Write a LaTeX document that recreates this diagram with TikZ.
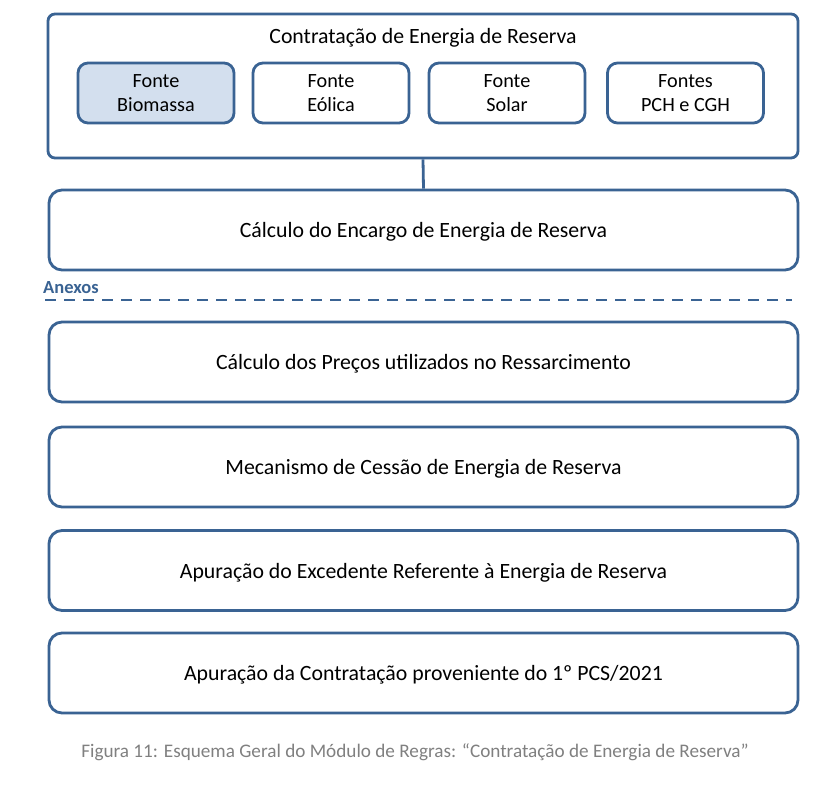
\documentclass[tikz,border=0pt]{standalone}
\usepackage{fontspec}
\setmainfont{Carlito}
\begin{document}
\begin{tikzpicture}[x=1pt,y=-1pt,
  edge/.style={draw=boxblue,line width=2.8pt},
  bigbox/.style={draw=boxblue,line width=2.8pt,rounded corners=13pt,fill=white,minimum width=749pt,minimum height=80pt,font=\fontsize{21.8}{26}\selectfont,inner sep=0pt,text depth=0pt},
  srcbox/.style={draw=boxblue,line width=2.8pt,rounded corners=10pt,fill=white,minimum width=156pt,minimum height=60pt,font=\fontsize{20.2}{24}\selectfont,align=center,inner sep=0pt},
]
\definecolor{boxblue}{HTML}{3A6393}
\definecolor{lightfill}{HTML}{D3DFEE}
\definecolor{captiongray}{HTML}{808080}
\useasboundingbox (0,0) rectangle (831,795);
\fill[white] (0,0) rectangle (831,795);
% outer top box
\node[draw=boxblue,line width=2.8pt,rounded corners=7pt,minimum width=750pt,minimum height=144pt,inner sep=0pt] (top) at (423,86) {};
\node[font=\fontsize{21.8}{26}\selectfont] (title) at (423,38) {Contratação de Energia de Reserva};
\node[srcbox,fill=lightfill] (bio) at (156,93) {Fonte\\Biomassa};
\node[srcbox] (eol) at (331,93) {Fonte\\Eólica};
\node[srcbox] (sol) at (507,93) {Fonte\\Solar};
\node[srcbox] (pch) at (685.5,93) {Fontes\\PCH e CGH};
% boxes
\node[bigbox] (enc) at (423.5,230) {Cálculo do Encargo de Energia de Reserva};
\draw[edge] (top.south) -- (enc.north);
\node[font=\bfseries\fontsize{18.5}{20}\selectfont,text=boxblue,anchor=west,inner sep=0pt] (anexos) at (43,288) {Anexos};
\coordinate (dl) at (45,300);
\coordinate (dr) at (792,300);
\draw[boxblue,line width=2.8pt,dash pattern=on 11pt off 8pt] (dl) -- (dr);
\node[bigbox] (pre) at (423.5,362) {Cálculo dos Preços utilizados no Ressarcimento};
\node[bigbox] (mec) at (423.5,467) {Mecanismo de Cessão de Energia de Reserva};
\node[bigbox] (exc) at (423.5,570.5) {Apuração do Excedente Referente à Energia de Reserva};
\node[bigbox] (pcs) at (423.5,673) {Apuração da Contratação proveniente do 1º PCS/2021};
\node[font=\fontsize{19.2}{22}\selectfont,text=captiongray] (cap) at (415,752) {Figura 11: Esquema Geral do Módulo de Regras: “Contratação de Energia de Reserva”};
\end{tikzpicture}
\end{document}
